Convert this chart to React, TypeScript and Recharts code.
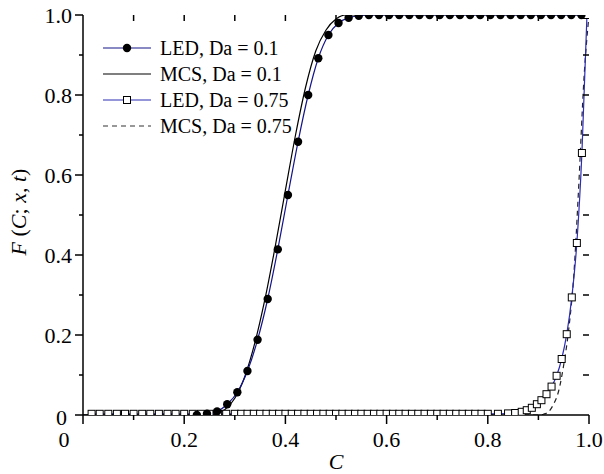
import React from 'react';
import { ComposedChart, Line, XAxis, YAxis, Legend } from 'recharts';

const FONT = '"Liberation Serif", "Times New Roman", serif';
const NAVY = '#14148a';
const BLUE = '#2c2cb4';

const MARGIN = { top: 15, right: 15, left: 0, bottom: 0 };
const Y_AXIS_W = 83;
const X_AXIS_H = 59;
const CHART_W = 604;
const CHART_H = 474;

const X_TICKS = [0, 0.1, 0.2, 0.3, 0.4, 0.5, 0.6, 0.7, 0.8, 0.9, 1.0];
const Y_TICKS = [0, 0.1, 0.2, 0.3, 0.4, 0.5, 0.6, 0.7, 0.8, 0.9, 1.0];

// LED, Da = 0.1 (filled circles)
const ledDa01C = [
  0.225, 0.245, 0.265, 0.285, 0.305, 0.325, 0.345, 0.365, 0.385, 0.405, 0.425, 0.445, 0.465,
  0.485, 0.505, 0.525, 0.545, 0.565, 0.585, 0.605, 0.625, 0.645, 0.665, 0.685, 0.705, 0.725,
  0.745, 0.765, 0.785, 0.805, 0.825, 0.845, 0.865, 0.885, 0.905, 0.925, 0.945, 0.965, 0.985,
];
const ledDa01F = [
  0.0, 0.003, 0.009, 0.027, 0.057, 0.11, 0.188, 0.29, 0.414, 0.55, 0.683, 0.8, 0.892,
  0.95, 0.98, 0.993, 0.998, 1, 1, 1, 1, 1, 1, 1, 1, 1,
  1, 1, 1, 1, 1, 1, 1, 1, 1, 1, 1, 1, 1,
];

// MCS, Da = 0.1 (solid black)
const mcsDa01C = [0, 0.24, 0.26, 0.28, 0.3, 0.32, 0.34, 0.36, 0.38, 0.4, 0.42, 0.44, 0.46, 0.48, 0.5, 0.52, 1.0];
const mcsDa01F = [0, 0, 0.003, 0.013, 0.042, 0.097, 0.182, 0.292, 0.422, 0.562, 0.7, 0.82, 0.91, 0.962, 0.99, 1.0, 1.0];

// LED, Da = 0.75 (open squares)
const ledDa075C = [
  0.017, 0.033, 0.05, 0.067, 0.083, 0.1, 0.117, 0.133, 0.15, 0.167, 0.183, 0.2, 0.217, 0.233,
  0.25, 0.267, 0.283, 0.3, 0.3125, 0.325, 0.3375, 0.35, 0.3625, 0.375, 0.3875, 0.4, 0.4125,
  0.425, 0.4375, 0.45, 0.4625, 0.475, 0.4875, 0.5, 0.5125, 0.525, 0.5375, 0.55, 0.5625, 0.575,
  0.5875, 0.6, 0.6125, 0.625, 0.6375, 0.65, 0.6625, 0.675, 0.6875, 0.7, 0.7125, 0.725, 0.7375,
  0.75, 0.7625, 0.775, 0.7875, 0.8, 0.82, 0.84, 0.854, 0.867, 0.877, 0.887, 0.897, 0.906,
  0.916, 0.926, 0.936, 0.946, 0.956, 0.966, 0.976, 0.986, 0.996,
];
const ledDa075F = [
  0.003, 0.003, 0.003, 0.003, 0.003, 0.003, 0.003, 0.003, 0.003, 0.003, 0.003, 0.003, 0.003, 0.003,
  0.003, 0.003, 0.003, 0.003, 0.003, 0.003, 0.003, 0.003, 0.003, 0.003, 0.003, 0.003, 0.003,
  0.003, 0.003, 0.003, 0.003, 0.003, 0.003, 0.003, 0.003, 0.003, 0.003, 0.003, 0.003, 0.003,
  0.003, 0.003, 0.003, 0.003, 0.003, 0.003, 0.003, 0.003, 0.003, 0.003, 0.003, 0.003, 0.003,
  0.003, 0.003, 0.003, 0.003, 0.003, 0.003, 0.004, 0.005, 0.008, 0.012, 0.018, 0.027, 0.037,
  0.052, 0.071, 0.098, 0.14, 0.202, 0.294, 0.43, 0.655, 1.0,
];

// MCS, Da = 0.75 (dashed)
const mcsDa075C = [0, 0.9, 0.91, 0.92, 0.93, 0.94, 0.95, 0.96, 0.97, 0.98, 0.99, 1.0];
const mcsDa075F = [0, 0, 0.002, 0.008, 0.027, 0.06, 0.125, 0.215, 0.35, 0.58, 0.84, 1.0];

const toPoints = (c: number[], f: number[]) => c.map((v, i) => ({ c: v, f: f[i] }));

const isMajor = (v: number) => Math.round(v * 10) % 2 === 0;
const tickText = (v: number) => (v === 0 ? '0' : v.toFixed(1));

const plotLeft = MARGIN.left + Y_AXIS_W;
const plotTop = MARGIN.top;
const plotRight = CHART_W - MARGIN.right;
const plotW = plotRight - plotLeft;
const plotH = CHART_H - X_AXIS_H - MARGIN.bottom - plotTop;

// bottom ticks (outward) + mirrored inward ticks on the top frame
const XTick = (props: any) => {
  const { x, y, payload } = props;
  const v = payload.value;
  const major = isMajor(v);
  const edge = v === 0 || v === 1;
  return (
    <g>
      <line x1={x} x2={x} y1={y} y2={y + (major ? 9 : 5)} stroke="#000" strokeWidth={1.5} />
      {!edge && <line x1={x} x2={x} y1={plotTop} y2={plotTop + 6} stroke="#000" strokeWidth={1.5} />}
      {major && (
        <text x={v === 0 ? x - 19 : x} y={y + 32} textAnchor="middle" fontFamily={FONT} fontSize={22} fill="#000">
          {tickText(v)}
        </text>
      )}
    </g>
  );
};

// left ticks (outward) + mirrored inward ticks on the right frame
const YTick = (props: any) => {
  const { x, y, payload } = props;
  const v = payload.value;
  const major = isMajor(v);
  const edge = v === 0 || v === 1;
  return (
    <g>
      <line x1={x - (major ? 8 : 4)} x2={x} y1={y} y2={y} stroke="#000" strokeWidth={1.5} />
      {!edge && <line x1={plotRight - 6} x2={plotRight} y1={y} y2={y} stroke="#000" strokeWidth={1.5} />}
      {major && (
        <text x={v === 0 ? x - 16 : x - 11} y={y + (v === 0 ? 10 : 7.5)} textAnchor="end" fontFamily={FONT} fontSize={22} fill="#000">
          {tickText(v)}
        </text>
      )}
    </g>
  );
};

const CircleDot = (p: any) => (
  <g key={`c${p.index}`} clipPath="url(#plot-clip)">
    <circle cx={p.cx} cy={p.cy} r={4.2} fill="#000" />
  </g>
);
const SquareDot = (p: any) => (
  <g key={`s${p.index}`} clipPath="url(#plot-clip)">
    <rect x={p.cx - 3.5} y={p.cy - 3.5} width={7} height={7} fill="#fff" stroke="#000" strokeWidth={1} />
  </g>
);

const legendItems = [
  { label: 'LED, Da = 0.1', color: NAVY, dash: undefined, marker: 'circle' },
  { label: 'MCS, Da = 0.1', color: '#000', dash: undefined, marker: 'none' },
  { label: 'LED, Da = 0.75', color: BLUE, dash: undefined, marker: 'square' },
  { label: 'MCS, Da = 0.75', color: '#333', dash: '5 4', marker: 'none' },
];

const renderLegend = () => (
  <div style={{ fontFamily: FONT, fontSize: 20, color: '#000' }}>
    {legendItems.map((it) => (
      <div key={it.label} style={{ display: 'flex', alignItems: 'center', height: 26 }}>
        <svg width={48} height={26}>
          <line x1={0} x2={48} y1={13} y2={13} stroke={it.color} strokeWidth={1.2} strokeDasharray={it.dash} />
          {it.marker === 'circle' && <circle cx={24} cy={13} r={4.2} fill="#000" />}
          {it.marker === 'square' && <rect x={20.5} y={9.5} width={7} height={7} fill="#fff" stroke="#000" />}
        </svg>
        <span style={{ marginLeft: 9, whiteSpace: 'nowrap' }}>{it.label}</span>
      </div>
    ))}
  </div>
);

const XLabel = () => (
  <g>
    <defs>
      <clipPath id="plot-clip">
        <rect x={plotLeft} y={plotTop} width={plotW} height={plotH} />
      </clipPath>
    </defs>
    <text x={336} y={469} textAnchor="middle" fontFamily={FONT} fontSize={22} fontStyle="italic" fill="#000">
      C
    </text>
  </g>
);

const YLabel = () => (
  <text x={26} y={212} transform="rotate(-90 26 212)" textAnchor="middle" fontFamily={FONT} fontSize={22} fill="#000">
    <tspan fontStyle="italic">F</tspan>
    <tspan> (</tspan>
    <tspan fontStyle="italic">C</tspan>
    <tspan>; </tspan>
    <tspan fontStyle="italic">x</tspan>
    <tspan>, </tspan>
    <tspan fontStyle="italic">t</tspan>
    <tspan>)</tspan>
  </text>
);

export default function App() {
  return (
    <div style={{ position: 'absolute', left: 0, top: 0, width: CHART_W, height: CHART_H, background: '#fff' }}>
      <ComposedChart width={CHART_W} height={CHART_H} margin={MARGIN}>
        <XAxis
          dataKey="c"
          type="number"
          domain={[0, 1]}
          ticks={X_TICKS}
          interval={0}
          allowDataOverflow
          height={X_AXIS_H}
          tickSize={0}
          tickMargin={0}
          tickLine={false}
          tick={<XTick />}
          axisLine={{ stroke: '#000', strokeWidth: 1.5 }}
          label={{ content: XLabel }}
        />
        <XAxis
          xAxisId="top"
          orientation="top"
          type="number"
          domain={[0, 1]}
          height={0}
          tick={false}
          tickLine={false}
          axisLine={{ stroke: '#000', strokeWidth: 1.5 }}
        />
        <YAxis
          type="number"
          domain={[0, 1]}
          ticks={Y_TICKS}
          interval={0}
          allowDataOverflow
          width={Y_AXIS_W}
          tickSize={0}
          tickMargin={0}
          tickLine={false}
          tick={<YTick />}
          axisLine={{ stroke: '#000', strokeWidth: 1.5 }}
          label={{ content: YLabel }}
        />
        <YAxis
          yAxisId="right"
          orientation="right"
          type="number"
          domain={[0, 1]}
          width={0}
          tick={false}
          tickLine={false}
          axisLine={{ stroke: '#000', strokeWidth: 1.5 }}
        />
        <Legend
          layout="vertical"
          align="center"
          verticalAlign="middle"
          content={renderLegend}
          wrapperStyle={{ left: 103, top: 35, width: 'auto', height: 'auto' }}
        />
        <Line
          data={toPoints(mcsDa01C, mcsDa01F)}
          dataKey="f"
          type="monotone"
          stroke="#000"
          strokeWidth={1.2}
          dot={false}
          activeDot={false}
          isAnimationActive={false}
        />
        <Line
          data={toPoints(mcsDa075C, mcsDa075F)}
          dataKey="f"
          type="monotone"
          stroke="#222"
          strokeWidth={1.2}
          strokeDasharray="5 4"
          dot={false}
          activeDot={false}
          isAnimationActive={false}
        />
        <Line
          data={toPoints(ledDa075C, ledDa075F)}
          dataKey="f"
          type="monotone"
          stroke={BLUE}
          strokeWidth={1.2}
          dot={SquareDot}
          activeDot={false}
          isAnimationActive={false}
        />
        <Line
          data={toPoints(ledDa01C, ledDa01F)}
          dataKey="f"
          type="monotone"
          stroke={NAVY}
          strokeWidth={1.2}
          dot={CircleDot}
          activeDot={false}
          isAnimationActive={false}
        />
      </ComposedChart>
    </div>
  );
}
